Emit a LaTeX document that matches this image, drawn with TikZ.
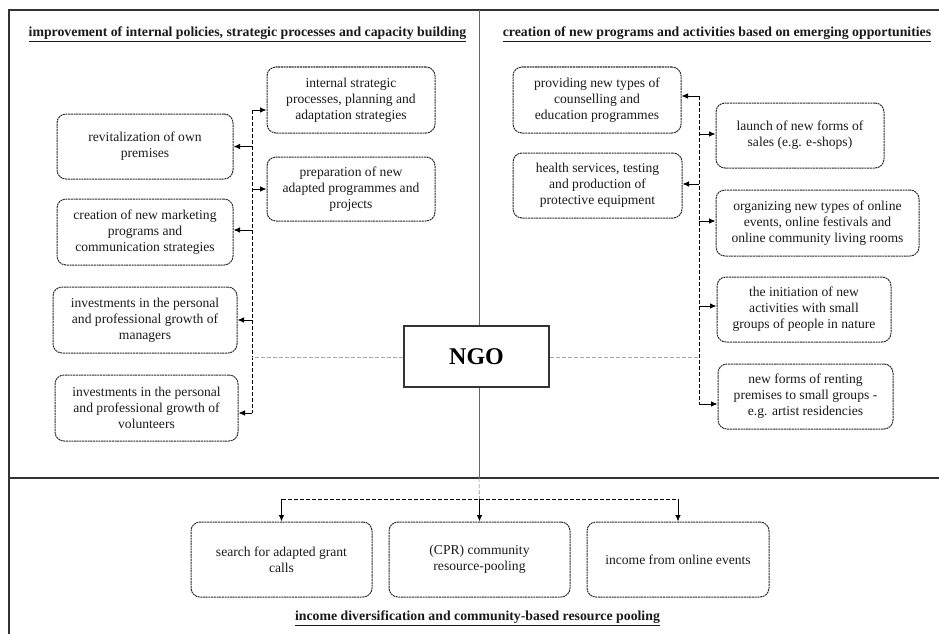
\documentclass[tikz,border=0pt]{standalone}
\usepackage{fontspec}
\setmainfont{Liberation Serif}
\usetikzlibrary{arrows.meta}
\definecolor{frame}{HTML}{333333}
\definecolor{boxline}{HTML}{2A2A2A}
\definecolor{txt}{HTML}{1A1A1A}
\begin{document}
\begin{tikzpicture}[x=1pt,y=-1pt,
  box/.style={draw=boxline, line width=1pt, dash pattern=on 2pt off 0.7pt, rounded corners=9pt,
    align=center, inner sep=0pt, text=txt, font=\fontsize{13.6}{16}\selectfont},
  ttl/.style={font=\bfseries\fontsize{13.8}{15}\selectfont, text=txt, inner sep=0pt},
  trunk/.style={draw=black, line width=0.8pt, dash pattern=on 4pt off 2pt},
  link/.style={draw=gray!70, line width=0.8pt, dash pattern=on 4pt off 2pt},
  arr/.style={draw=black, line width=0.9pt, -{Latex[length=6.5pt,width=5.5pt]}},
  ngo/.style={draw=frame, line width=1.1pt, fill=white, minimum width=145pt, minimum height=61pt,
    inner sep=0pt, font=\bfseries\fontsize{24}{24}\selectfont}]
\useasboundingbox (0,0) rectangle (939,634);
% frame
\draw[frame, line width=1.3pt] (9,634) -- (9,10) -- (939,10);
\draw[frame, line width=1.3pt] (9,478) -- (939,478);
\draw[gray!80!black, line width=1pt] (479,10) -- (479,478);
% titles
\node[ttl] (t1) at (247.5,34) {\underline{improvement of internal policies, strategic processes and capacity building}};
\node[ttl] (t2) at (717,34) {\underline{creation of new programs and activities based on emerging opportunities}};
\node[ttl] (t3) at (477.5,618) {\underline{income diversification and community-based resource pooling}};
% NGO
\node[ngo] (ngo) at (476.5,356.5) {NGO};
% left boxes
\node[box, minimum width=168pt, minimum height=66pt] (internal) at (351,100) {internal strategic\\processes, planning and\\adaptation strategies};
\node[box, minimum width=168pt, minimum height=64pt] (prep) at (351,189) {preparation of new\\adapted programmes and\\projects};
\node[box, minimum width=176pt, minimum height=65pt] (revit) at (145,146.5) {revitalization of own\\premises};
\node[box, minimum width=176pt, minimum height=66pt] (market) at (145,232) {creation of new marketing\\programs and\\communication strategies};
\node[box, minimum width=184pt, minimum height=66pt] (managers) at (145,320) {investments in the personal\\and professional growth of\\managers};
\node[box, minimum width=183pt, minimum height=66pt] (volunteers) at (146.5,408) {investments in the personal\\and professional growth of\\volunteers};
% right boxes
\node[box, minimum width=168pt, minimum height=66pt] (counsel) at (597,100) {providing new types of\\counselling and\\education programmes};
\node[box, minimum width=169pt, minimum height=65pt] (health) at (597.5,185.5) {health services, testing\\and production of\\protective equipment};
\node[box, minimum width=168pt, minimum height=65pt] (launch) at (800,135.5) {launch of new forms of\\sales (e.g. e-shops)};
\node[box, minimum width=203pt, minimum height=66pt] (organize) at (817.5,223) {organizing new types of online\\events, online festivals and\\online community living rooms};
\node[box, minimum width=174pt, minimum height=65pt] (initiate) at (804,309.5) {the initiation of new\\activities with small\\groups of people in nature};
\node[box, minimum width=175pt, minimum height=65pt] (renting) at (805.5,396.5) {new forms of renting\\premises to small groups -\\e.g. artist residencies};
% bottom boxes
\node[box, minimum width=181pt, minimum height=75pt] (grant) at (281.5,559.5) {search for adapted grant\\calls};
\node[box, minimum width=181pt, minimum height=75pt] (cpr) at (479.5,559.5) {(CPR) community\\resource-pooling};
\node[box, minimum width=182pt, minimum height=75pt] (online) at (678,559.5) {income from online events};
% left trunk
\coordinate (ltop) at (252,110);
\coordinate (lbot) at (252,413);
\coordinate (lmid) at (252,357);
\draw[trunk] (ltop) -- (lbot);
\draw[link] (ngo.west |- lmid) -- (lmid);
\draw[arr] (ltop) -- (ltop -| internal.west);
\draw[arr] (ltop |- prep.west) -- (prep.west);
\draw[arr] (ltop |- revit.east) -- (revit.east);
\draw[arr] ([yshift=2pt]ltop |- market.east) -- ([yshift=2pt]market.east);
\draw[arr] (ltop |- managers.east) -- (managers.east);
\draw[arr] (lbot) -- (lbot -| volunteers.east);
% right trunk
\coordinate (rtop) at (699,96);
\coordinate (rbot) at (699,404);
\coordinate (rmid) at (699,357);
\draw[trunk] (rtop) -- (rbot);
\draw[link] (ngo.east |- rmid) -- (rmid);
\draw[arr] (rtop) -- (rtop -| counsel.east);
\draw[arr] ([yshift=1.5pt]rtop |- launch.west) -- ([yshift=1.5pt]launch.west);
\draw[arr] ([yshift=1.5pt]rtop |- health.east) -- ([yshift=1.5pt]health.east);
\draw[arr] ([yshift=2pt]rtop |- organize.west) -- ([yshift=2pt]organize.west);
\draw[arr] ([yshift=3.5pt]rtop |- initiate.west) -- ([yshift=3.5pt]initiate.west);
\draw[arr] (rbot) -- (rbot -| renting.west);
% bottom
\coordinate (bdiv) at (479,478);
\coordinate (bl) at (281.5,499);
\coordinate (bc) at (479.5,499);
\coordinate (br) at (678,499);
\draw[link] (bdiv) -- (bc);
\draw[trunk] (bl) -- (br);
\draw[arr] (bl) -- (grant.north);
\draw[arr] (bc) -- (cpr.north);
\draw[arr] (br) -- (online.north);
\end{tikzpicture}
\end{document}
